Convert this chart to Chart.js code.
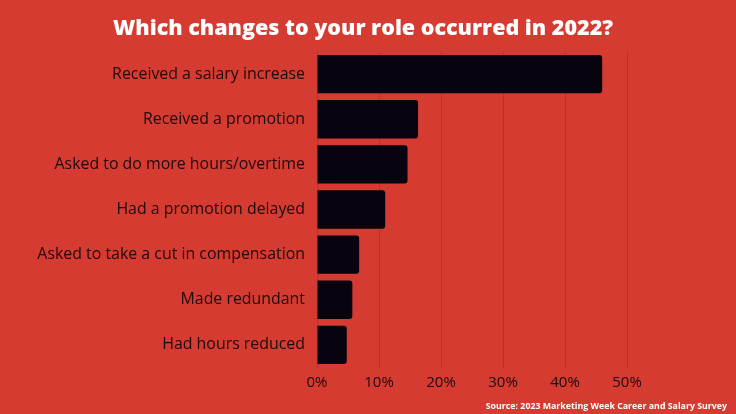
<!DOCTYPE html>
<html>
<head>
<meta charset="utf-8">
<script src="https://cdn.jsdelivr.net/npm/chart.js@4"></script>
<style>
  html, body { margin: 0; padding: 0; background: #d63b31; }
  #wrap { width: 736px; height: 414px; position: relative; }
</style>
</head>
<body>
<div id="wrap"><canvas id="roleChart"></canvas></div>
<script>
// categories and values (% of respondents)
const categories = [
  'Received a salary increase',
  'Received a promotion',
  'Asked to do more hours/overtime',
  'Had a promotion delayed',
  'Asked to take a cut in compensation',
  'Made redundant',
  'Had hours reduced'
];
const shares = [46, 16.3, 14.6, 11, 6.8, 5.7, 4.8];
const xTicks = [0, 10, 20, 30, 40, 50];

const titleText = 'Which changes to your role occurred in 2022?';
const sourceText = 'Source: 2023 Marketing Week Career and Salary Survey';

const fontFam = '"Open Sans", Lato, sans-serif';

// title and source drawn over the full canvas width
const headerFooter = {
  id: 'headerFooter',
  afterDraw(chart) {
    const c = chart.ctx;
    c.save();
    c.fillStyle = '#ffffff';
    c.textBaseline = 'middle';
    c.textAlign = 'center';
    c.font = '800 21.5px ' + fontFam;
    c.fillText(titleText, 363, 29);
    c.textAlign = 'right';
    c.font = '700 8.8px ' + fontFam;
    c.fillText(sourceText, 727, 406);
    c.restore();
  }
};

document.addEventListener('DOMContentLoaded', function () {
  const ctx = document.getElementById('roleChart').getContext('2d');
  new Chart(ctx, {
    type: 'bar',
    data: {
      labels: categories,
      datasets: [{
        data: shares,
        backgroundColor: '#07030f',
        borderRadius: 3,
        borderSkipped: 'start',
        categoryPercentage: 1,
        barPercentage: 0.85
      }]
    },
    plugins: [headerFooter],
    options: {
      indexAxis: 'y',
      responsive: true,
      maintainAspectRatio: false,
      animation: false,
      layout: { padding: { left: 0, right: 109, top: 51.5, bottom: 20.5 } },
      plugins: {
        legend: { display: false },
        tooltip: { enabled: false },
        title: { display: false }
      },
      scales: {
        x: {
          min: 0,
          max: 50,
          afterBuildTicks: function (axis) {
            axis.ticks = xTicks.map(v => ({ value: v }));
          },
          afterFit: function (scale) { scale.height = 26; },
          ticks: {
            color: '#1c0a0c',
            font: { family: fontFam, size: 15 },
            padding: 6,
            callback: v => v + '%'
          },
          grid: { color: 'rgba(110,10,10,0.22)', drawTicks: false },
          border: { display: false }
        },
        y: {
          afterFit: function (scale) { scale.width = 317; },
          ticks: {
            color: '#1c0a0c',
            font: { family: fontFam, size: 15.9 },
            padding: 4
          },
          grid: { display: false },
          border: { display: false }
        }
      }
    }
  });
});
</script>
</body>
</html>
